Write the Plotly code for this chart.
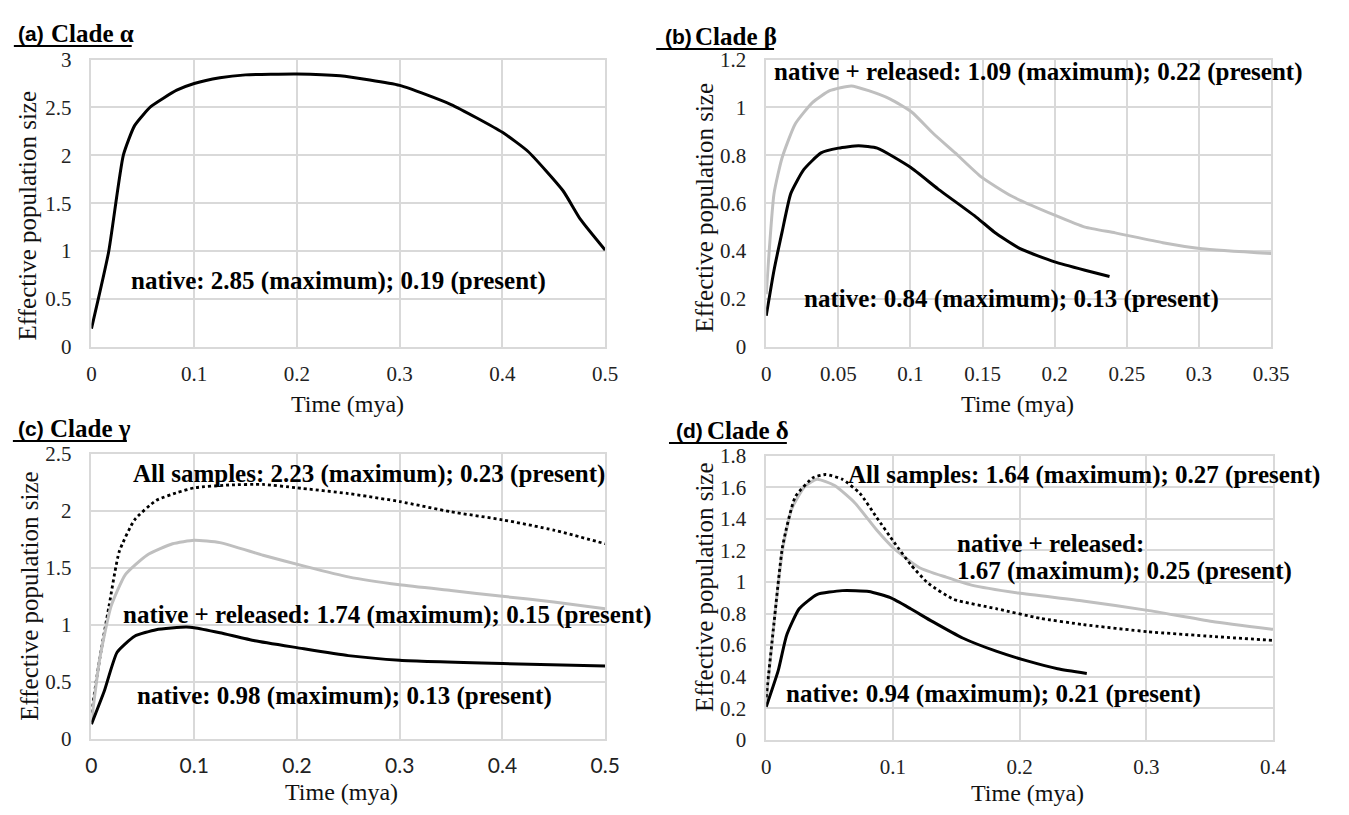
import plotly.graph_objects as go

W, H = 1349, 815

# ---------------- data ----------------
a_x = [0, 0.0167, 0.031, 0.042, 0.058, 0.083, 0.1, 0.125, 0.15, 0.2, 0.242, 0.3, 0.35, 0.4, 0.425, 0.459, 0.476, 0.5]
a_native = [0.19, 0.99, 2.0, 2.31, 2.51, 2.68, 2.75, 2.81, 2.84, 2.85, 2.83, 2.73, 2.53, 2.24, 2.04, 1.63, 1.33, 1.01]

b_native_x = [0, 0.0054, 0.011, 0.017, 0.026, 0.038, 0.05, 0.064, 0.077, 0.1, 0.119, 0.146, 0.158, 0.176, 0.2, 0.221, 0.238]
b_native = [0.13, 0.32, 0.48, 0.64, 0.74, 0.81, 0.83, 0.84, 0.83, 0.75, 0.66, 0.54, 0.48, 0.41, 0.355, 0.32, 0.294]
b_rel_x = [0, 0.0054, 0.011, 0.02, 0.032, 0.044, 0.059, 0.071, 0.086, 0.101, 0.116, 0.131, 0.149, 0.17, 0.2, 0.221, 0.242, 0.275, 0.302, 0.35]
b_rel = [0.22, 0.64, 0.79, 0.93, 1.02, 1.07, 1.09, 1.07, 1.035, 0.98, 0.89, 0.81, 0.71, 0.63, 0.55, 0.50, 0.476, 0.435, 0.41, 0.39]

c_native_x = [0, 0.0125, 0.025, 0.042, 0.063, 0.092, 0.1, 0.125, 0.159, 0.2, 0.25, 0.3, 0.4, 0.5]
c_native = [0.13, 0.42, 0.76, 0.90, 0.957, 0.98, 0.975, 0.93, 0.86, 0.80, 0.73, 0.69, 0.66, 0.64]
c_rel_x = [0, 0.008, 0.019, 0.033, 0.054, 0.079, 0.1, 0.125, 0.167, 0.209, 0.25, 0.3, 0.35, 0.4, 0.45, 0.5]
c_rel = [0.15, 0.7, 1.16, 1.44, 1.61, 1.71, 1.74, 1.72, 1.61, 1.51, 1.42, 1.35, 1.30, 1.25, 1.20, 1.14]
c_all_x = [0, 0.008, 0.017, 0.027, 0.042, 0.063, 0.084, 0.1, 0.134, 0.167, 0.2, 0.25, 0.3, 0.35, 0.4, 0.45, 0.5]
c_all = [0.23, 0.70, 1.16, 1.64, 1.92, 2.09, 2.16, 2.20, 2.225, 2.23, 2.20, 2.15, 2.08, 1.99, 1.92, 1.83, 1.71]

d_native_x = [0, 0.0095, 0.016, 0.026, 0.04, 0.06, 0.081, 0.098, 0.114, 0.131, 0.155, 0.182, 0.206, 0.23, 0.253]
d_native = [0.21, 0.44, 0.66, 0.83, 0.92, 0.945, 0.94, 0.90, 0.83, 0.75, 0.645, 0.56, 0.50, 0.45, 0.42]
d_rel_x = [0, 0.006, 0.013, 0.02, 0.03, 0.04, 0.054, 0.07, 0.087, 0.101, 0.121, 0.142, 0.162, 0.199, 0.25, 0.301, 0.352, 0.4]
d_rel = [0.25, 0.73, 1.21, 1.46, 1.60, 1.65, 1.61, 1.50, 1.33, 1.21, 1.09, 1.03, 0.98, 0.93, 0.88, 0.82, 0.75, 0.70]
d_all_x = [0, 0.006, 0.013, 0.023, 0.037, 0.047, 0.06, 0.074, 0.087, 0.101, 0.114, 0.128, 0.148, 0.182, 0.216, 0.25, 0.301, 0.352, 0.4]
d_all = [0.27, 0.73, 1.23, 1.54, 1.66, 1.68, 1.65, 1.56, 1.41, 1.25, 1.11, 0.99, 0.89, 0.83, 0.77, 0.73, 0.685, 0.655, 0.63]

panel_labels = ["(a)", "(b)", "(c)", "(d)"]
panel_clades = ["Clade α", "Clade β", "Clade γ", "Clade δ"]
x_ranges = [[0, 0.5], [0, 0.35], [0, 0.5], [0, 0.4]]
x_dticks = [0.1, 0.05, 0.1, 0.1]
y_ranges = [[0, 3], [0, 1.2], [0, 2.5], [0, 1.8]]
y_dticks = [0.5, 0.2, 0.5, 0.2]
x_title = "Time (mya)"
y_title = "Effective population size"

# ---------------- layout geometry (pixels) ----------------
# left, right, top, bottom of each plot area
boxes = [(87, 610, 49, 345), (774, 1288, 49, 345), (87, 610, 455, 749), (774, 1290, 457, 750)]

def px(x):
    return x / W

def py(y):
    return 1 - y / H

SERIF = "Liberation Serif"
BLACK = "#000000"
GRAY = "#bfbfbf"
GRID = "#d9d9d9"

fig = go.Figure()

def add_line(i, xs, ys, color, dash="solid", width=3):
    suffix = "" if i == 0 else str(i + 1)
    fig.add_trace(go.Scatter(x=xs, y=ys, mode="lines", xaxis="x" + suffix, yaxis="y" + suffix,
                             line=dict(color=color, width=width, dash=dash, shape="spline", smoothing=0.5),
                             showlegend=False, hoverinfo="skip"))

add_line(0, a_x, a_native, BLACK)
add_line(1, b_rel_x, b_rel, GRAY)
add_line(1, b_native_x, b_native, BLACK)
add_line(2, c_all_x, c_all, BLACK, dash="dot", width=2.8)
add_line(2, c_rel_x, c_rel, GRAY)
add_line(2, c_native_x, c_native, BLACK)
add_line(3, d_rel_x, d_rel, GRAY)
add_line(3, d_all_x, d_all, BLACK, dash="dot", width=2.8)
add_line(3, d_native_x, d_native, BLACK)

layout = dict(width=W, height=H, margin=dict(l=0, r=0, t=0, b=0),
              paper_bgcolor="white", plot_bgcolor="white", showlegend=False)

for i, (l, r, t, b) in enumerate(boxes):
    suffix = "" if i == 0 else str(i + 1)
    xfont = dict(family="Lato" if i == 2 else SERIF, size=21, color="#222")
    layout["xaxis" + suffix] = dict(domain=[px(l), px(r)], range=x_ranges[i], dtick=x_dticks[i], tick0=0,
                                    anchor="y" + suffix, showgrid=True, gridcolor=GRID, gridwidth=1.5,
                                    showline=True, linecolor=GRID, linewidth=1.5, mirror=True,
                                    zeroline=False, ticks="", tickfont=xfont, ticklabelstandoff=7)
    layout["yaxis" + suffix] = dict(domain=[py(b), py(t)], range=y_ranges[i], dtick=y_dticks[i], tick0=0,
                                    anchor="x" + suffix, showgrid=True, gridcolor=GRID, gridwidth=1.5,
                                    showline=True, linecolor=GRID, linewidth=1.5, mirror=True,
                                    zeroline=False, ticks="", tickfont=dict(family=SERIF, size=21, color="#222"),
                                    ticklabelstandoff=14)

fig.update_layout(**layout)

ann = []
shapes = []

# panel titles
title_pos = [(10, 44, 22, 8, 128, 35), (669, 699, 25, 662, 782, 38),
             (10, 43, 429, 7, 123, 442), (680, 712, 431, 675, 795, 444)]
for i, (xl, xc, yc, u0, u1, uy) in enumerate(title_pos):
    ann.append(dict(x=px(xl), y=py(yc), xref="paper", yref="paper", xanchor="left", yanchor="middle",
                    text="<b>" + panel_labels[i] + "</b>", showarrow=False,
                    font=dict(family="Liberation Sans", size=21, color="black")))
    ann.append(dict(x=px(xc), y=py(yc), xref="paper", yref="paper", xanchor="left", yanchor="middle",
                    text="<b>" + panel_clades[i] + "</b>", showarrow=False,
                    font=dict(family=SERIF, size=25, color="black")))
    shapes.append(dict(type="line", xref="paper", yref="paper", x0=px(u0), x1=px(u1), y0=py(uy), y1=py(uy),
                       line=dict(color="black", width=2)))

# axis titles
ytitle_pos = [(22, 210), (711, 202), (24, 602), (711, 593)]
xtitle_pos = [(348, 404), (1030, 404), (342, 804), (1040, 805)]
for i in range(4):
    ann.append(dict(x=px(ytitle_pos[i][0]), y=py(ytitle_pos[i][1]), xref="paper", yref="paper",
                    xanchor="center", yanchor="middle", textangle=-90, text=y_title, showarrow=False,
                    font=dict(family=SERIF, size=25, color="#111")))
    ann.append(dict(x=px(xtitle_pos[i][0]), y=py(xtitle_pos[i][1]), xref="paper", yref="paper",
                    xanchor="center", yanchor="middle", text=x_title, showarrow=False,
                    font=dict(family=SERIF, size=24, color="#111")))

# in-plot labels (data coordinates)
labels = [
    (0, 0.0367, 0.69, "native: 2.85 (maximum); 0.19 (present)"),
    (1, 0.0039, 1.15, "native + released: 1.09 (maximum); 0.22 (present)"),
    (1, 0.0249, 0.20, "native: 0.84 (maximum); 0.13 (present)"),
    (2, 0.0388, 2.32, "All samples: 2.23 (maximum); 0.23 (present)"),
    (2, 0.029, 1.084, "native + released: 1.74 (maximum); 0.15 (present)"),
    (2, 0.042, 0.377, "native: 0.98 (maximum); 0.13 (present)"),
    (3, 0.0627, 1.68, "All samples: 1.64 (maximum); 0.27 (present)"),
    (3, 0.149, 1.243, "native + released:"),
    (3, 0.149, 1.07, "1.67 (maximum); 0.25 (present)"),
    (3, 0.0139, 0.29, "native: 0.94 (maximum); 0.21 (present)"),
]
for i, x, y, txt in labels:
    suffix = "" if i == 0 else str(i + 1)
    ann.append(dict(x=x, y=y, xref="x" + suffix, yref="y" + suffix, xanchor="left", yanchor="middle",
                    align="left", text="<b>" + txt + "</b>", showarrow=False,
                    font=dict(family=SERIF, size=25, color="black")))

fig.update_layout(annotations=ann, shapes=shapes)
fig.write_html("out.html")
